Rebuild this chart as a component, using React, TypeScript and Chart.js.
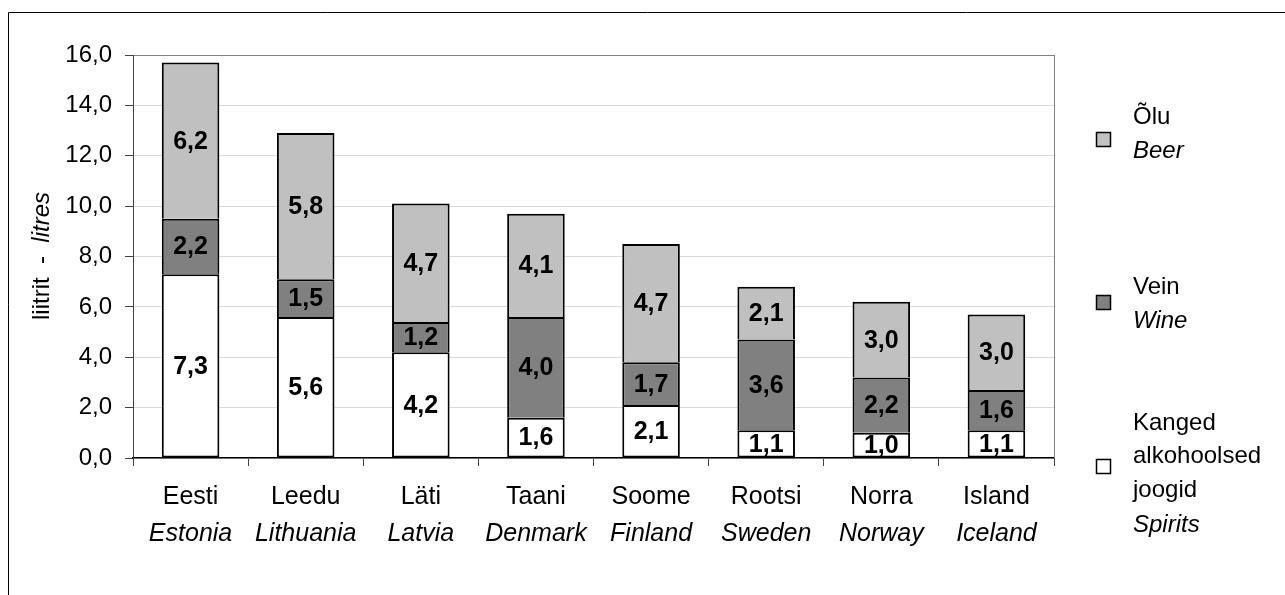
import React, { useEffect, useRef } from "react";
import { Chart, registerables } from "chart.js";

Chart.register(...registerables);

const categoriesEt = ["Eesti", "Leedu", "Läti", "Taani", "Soome", "Rootsi", "Norra", "Island"];
const categoriesEn = ["Estonia", "Lithuania", "Latvia", "Denmark", "Finland", "Sweden", "Norway", "Iceland"];
const spirits = [7.3, 5.6, 4.2, 1.6, 2.1, 1.1, 1.0, 1.1];
const wine = [2.2, 1.5, 1.2, 4.0, 1.7, 3.6, 2.2, 1.6];
const beer = [6.2, 5.8, 4.7, 4.1, 4.7, 2.1, 3.0, 3.0];
const yMin = 0;
const yMax = 16;
const yStep = 2;
const yTitleEt = "liitrit  -  ";
const yTitleEn = "litres";
const legendItems = [
  { et: ["Õlu"], en: "Beer", color: "#c0c0c0" },
  { et: ["Vein"], en: "Wine", color: "#808080" },
  { et: ["Kanged", "alkohoolsed", "joogid"], en: "Spirits", color: "#ffffff" },
];

const FONT = "'Liberation Sans', Arial, sans-serif";
const fmt = (v: number) => v.toFixed(1).replace(".", ",");

const decorPlugin = {
  id: "decor",
  beforeDraw(chart: any) {
    const ctx = chart.ctx;
    ctx.save();
    ctx.fillStyle = "#ffffff";
    ctx.fillRect(0, 0, chart.width, chart.height);
    ctx.restore();
  },
  afterDraw(chart: any) {
    const ctx = chart.ctx;
    const area = chart.chartArea;
    const xs = chart.scales.x;
    ctx.save();
    // outer frame
    ctx.strokeStyle = "#000000";
    ctx.lineWidth = 1;
    ctx.beginPath();
    ctx.moveTo(8.5, chart.height + 5);
    ctx.lineTo(8.5, 12.5);
    ctx.lineTo(chart.width + 5, 12.5);
    ctx.stroke();
    // plot right border
    ctx.strokeStyle = "#808080";
    ctx.beginPath();
    ctx.moveTo(Math.round(area.right) + 0.5, area.top);
    ctx.lineTo(Math.round(area.right) + 0.5, area.bottom);
    ctx.stroke();

    // data labels
    ctx.fillStyle = "#000000";
    ctx.font = `bold 25px ${FONT}`;
    ctx.textAlign = "center";
    ctx.textBaseline = "middle";
    chart.data.datasets.forEach((ds: any, di: number) => {
      const meta = chart.getDatasetMeta(di);
      meta.data.forEach((el: any, i: number) => {
        const cy = (el.y + el.base) / 2;
        ctx.fillText(fmt(ds.data[i]), el.x, cy + 1);
      });
    });

    // x labels
    ctx.textBaseline = "alphabetic";
    categoriesEt.forEach((c, i) => {
      const x = xs.getPixelForValue(i);
      ctx.font = `25px ${FONT}`;
      ctx.fillText(c, x, 504);
      ctx.font = `italic 25px ${FONT}`;
      ctx.fillText(categoriesEn[i], x, 541);
    });

    // y title
    ctx.save();
    ctx.translate(42, 256);
    ctx.rotate(-Math.PI / 2);
    ctx.textAlign = "left";
    ctx.textBaseline = "middle";
    ctx.font = `24px ${FONT}`;
    const w1 = ctx.measureText(yTitleEt).width;
    ctx.font = `italic 24px ${FONT}`;
    const w2 = ctx.measureText(yTitleEn).width;
    const start = -(w1 + w2) / 2;
    ctx.font = `24px ${FONT}`;
    ctx.fillText(yTitleEt, start, 0);
    ctx.font = `italic 24px ${FONT}`;
    ctx.fillText(yTitleEn, start + w1, 0);
    ctx.restore();

    // legend
    const boxX = 1096.5;
    const textX = 1133;
    const groups = [
      { boxY: 132.5, baselines: [124, 158] },
      { boxY: 295.5, baselines: [294, 328] },
      { boxY: 459.5, baselines: [430, 463, 497, 532] },
    ];
    legendItems.forEach((it, gi) => {
      const g = groups[gi];
      ctx.fillStyle = it.color;
      ctx.fillRect(boxX, g.boxY, 14, 14);
      ctx.strokeStyle = "#000000";
      ctx.lineWidth = 1.5;
      ctx.strokeRect(boxX, g.boxY, 14, 14);
      ctx.fillStyle = "#000000";
      ctx.textAlign = "left";
      ctx.textBaseline = "alphabetic";
      const lines = [...it.et, it.en];
      lines.forEach((t, li) => {
        ctx.font = li === lines.length - 1 ? `italic 24px ${FONT}` : `24px ${FONT}`;
        ctx.fillText(t, textX, g.baselines[li]);
      });
    });
    ctx.restore();
  },
};

export default function App() {
  const ref = useRef<HTMLCanvasElement | null>(null);
  useEffect(() => {
    if (!ref.current) return;
    const mk = (label: string, data: number[], color: string, skip: any) => ({
      label,
      data,
      backgroundColor: color,
      borderColor: "#000000",
      borderWidth: 2,
      borderSkipped: skip,
      barPercentage: 0.5,
      categoryPercentage: 1.0,
    });
    const chart = new Chart(ref.current, {
      type: "bar",
      data: {
        labels: categoriesEt,
        datasets: [
          mk("Spirits", spirits, "#ffffff", false),
          mk("Wine", wine, "#808080", "bottom"),
          mk("Beer", beer, "#c0c0c0", "bottom"),
        ],
      },
      options: {
        animation: false,
        responsive: false,
        devicePixelRatio: 1,
        layout: { padding: { left: 0, top: 55, right: 231, bottom: 0 } },
        plugins: { legend: { display: false }, tooltip: { enabled: false }, title: { display: false } },
        scales: {
          x: {
            stacked: true,
            offset: true,
            ticks: { display: false },
            grid: {
              offset: true,
              drawOnChartArea: false,
              drawTicks: true,
              tickLength: 8,
              tickColor: "#404040",
              tickWidth: 1,
            },
            border: { display: true, color: "#000000", width: 1.5 },
            afterFit: (s: any) => {
              s.height = 595 - 458;
            },
          },
          y: {
            stacked: true,
            min: yMin,
            max: yMax,
            ticks: {
              stepSize: yStep,
              padding: 13,
              color: "#000000",
              font: { family: FONT, size: 24 },
              callback: (v: any) => fmt(Number(v)),
            },
            grid: {
              color: (c: any) => (c.tick && c.tick.value === yMax ? "#808080" : "#d9d9d9"),
              lineWidth: 1,
              tickLength: 8,
              tickColor: "#404040",
            },
            border: { display: true, color: "#404040", width: 1 },
            afterFit: (s: any) => {
              s.width = 133;
            },
          },
        },
      },
      plugins: [decorPlugin],
    });
    return () => chart.destroy();
  }, []);
  return (
    <div style={{ position: "fixed", left: 0, top: 0, width: 1285, height: 595, background: "#fff" }}>
      <canvas ref={ref} width={1285} height={595} style={{ width: 1285, height: 595, display: "block" }} />
    </div>
  );
}
